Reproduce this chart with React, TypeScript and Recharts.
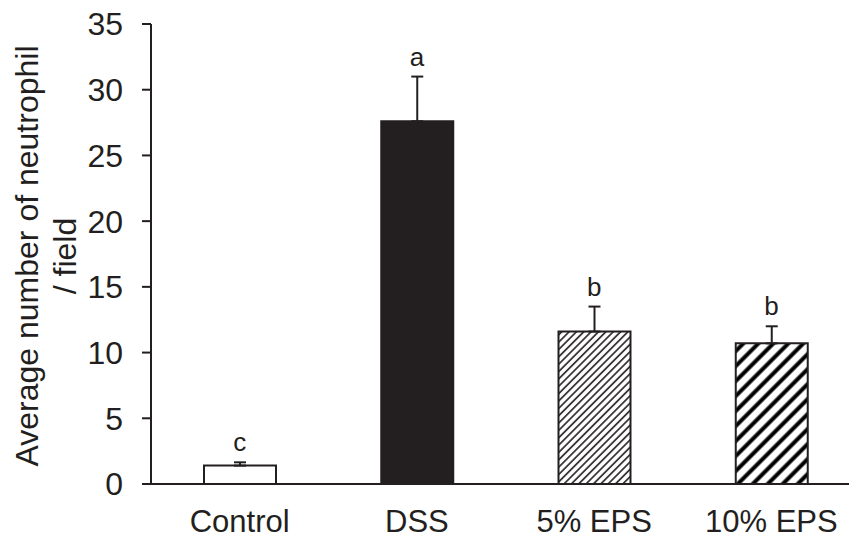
import React from "react";
import {
  ComposedChart,
  Bar,
  Line,
  Cell,
  XAxis,
  YAxis,
  ErrorBar,
  LabelList,
} from "recharts";

const INK = "#231f20";
const FONT = "'Liberation Sans', Arial, sans-serif";

const groups = ["Control", "DSS", "5% EPS", "10% EPS"];
const means = [1.4, 27.6, 11.6, 10.7];
const sems = [0.25, 3.4, 1.9, 1.3];
const letters = ["c", "a", "b", "b"];
const fills = ["#ffffff", INK, "url(#hatchFine)", "url(#hatchBold)"];
const yTicks = [0, 5, 10, 15, 20, 25, 30, 35];

const data = groups.map((g, i) => ({
  group: g,
  mean: means[i],
  err: [0, sems[i]],
  top: means[i] + sems[i],
  letter: letters[i],
}));

function YLabel({ viewBox }: any) {
  const cy = viewBox ? viewBox.y + viewBox.height / 2 + 2 : 256;
  return (
    <text
      transform={`translate(0, ${cy}) rotate(-90)`}
      textAnchor="middle"
      fontSize={32}
      fill={INK}
      fontFamily={FONT}
    >
      <tspan x={0} y={38}>Average number of neutrophil</tspan>
      <tspan x={0} y={76}>/ field</tspan>
    </text>
  );
}

export default function App() {
  return (
    <div style={{ margin: -8, width: 857, height: 552, overflow: "hidden", background: "#fff" }}>
      <ComposedChart
        width={860}
        height={552}
        data={data}
        margin={{ top: 24, right: 0, bottom: 0, left: 0 }}
        style={{ fontFamily: FONT }}
      >
        <defs>
          <pattern
            id="hatchFine"
            patternUnits="userSpaceOnUse"
            width={5.2}
            height={5.2}
            patternTransform="rotate(45)"
          >
            <rect width={5.2} height={5.2} fill="#fff" />
            <line x1={2.6} y1={0} x2={2.6} y2={5.2} stroke="#3a3637" strokeWidth={1.8} />
          </pattern>
          <pattern
            id="hatchBold"
            patternUnits="userSpaceOnUse"
            width={10.6}
            height={10.6}
            patternTransform="rotate(45)"
          >
            <rect width={10.6} height={10.6} fill="#fff" />
            <line x1={5.3} y1={0} x2={5.3} y2={10.6} stroke="#000" strokeWidth={4} />
          </pattern>
        </defs>
        <XAxis
          dataKey="group"
          height={68}
          tickLine={false}
          tickSize={0}
          tickMargin={26}
          axisLine={{ stroke: INK, strokeWidth: 2 }}
          tick={{ fill: INK, fontSize: 31 }}
          interval={0}
        />
        <YAxis
          width={151}
          domain={[0, 35]}
          ticks={yTicks}
          tickSize={9}
          tickMargin={19}
          axisLine={{ stroke: INK, strokeWidth: 2 }}
          tickLine={{ stroke: INK, strokeWidth: 2 }}
          tick={{ fill: INK, fontSize: 32 }}
          label={<YLabel />}
        />
        <Bar
          dataKey="mean"
          barSize={72}
          stroke={INK}
          strokeWidth={2}
          isAnimationActive={false}
        >
          {data.map((_, i) => (
            <Cell key={i} fill={fills[i]} />
          ))}
          <ErrorBar
            dataKey="err"
            direction="y"
            width={6}
            stroke={INK}
            strokeWidth={2}
            isAnimationActive={false}
          />
        </Bar>
        <Line
          dataKey="top"
          stroke="none"
          dot={false}
          activeDot={false}
          isAnimationActive={false}
        >
          <LabelList
            dataKey="letter"
            position="top"
            offset={11}
            fontSize={26}
            fill={INK}
          />
        </Line>
      </ComposedChart>
    </div>
  );
}
